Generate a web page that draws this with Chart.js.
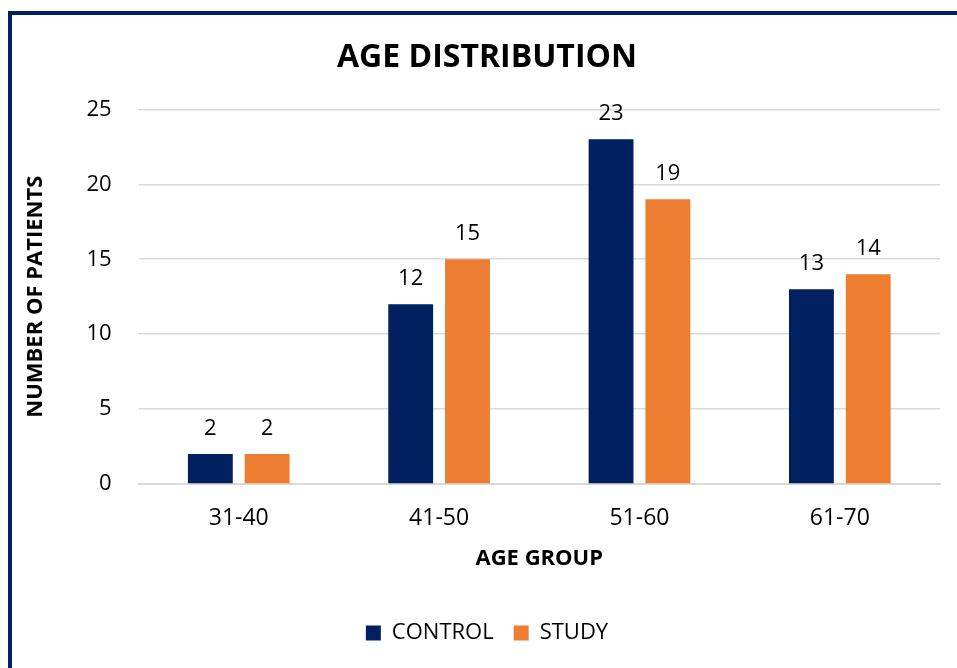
<!DOCTYPE html>
<html>
<head>
<meta charset="utf-8">
<script src="https://cdn.jsdelivr.net/npm/chart.js@4"></script>
<style>
  html, body { margin: 0; padding: 0; background: #fff; overflow: hidden; }
  #wrap { position: relative; width: 957px; height: 668px; }
  #frame { position: absolute; left: 8px; top: 11px; width: 1000px; height: 700px;
           border-left: 4px solid #002060; border-top: 4px solid #002060; box-sizing: border-box; }
  canvas { position: absolute; left: 0; top: 0; }
</style>
</head>
<body>
<div id="wrap">
  <div id="frame"></div>
  <canvas id="c" width="957" height="668"></canvas>
</div>
<script>
const categories = ['31-40', '41-50', '51-60', '61-70'];
const controlValues = [2, 12, 23, 13];
const studyValues = [2, 15, 19, 14];
const yTicks = [0, 5, 10, 15, 20, 25];

const FONT = '"Open Sans", "Liberation Sans", sans-serif';

// Write each bar's value above it
const valueLabels = {
  id: 'valueLabels',
  afterDatasetsDraw(chart) {
    const ctx = chart.ctx;
    ctx.save();
    ctx.font = '22px ' + FONT;
    ctx.fillStyle = '#000';
    ctx.textAlign = 'center';
    ctx.textBaseline = 'alphabetic';
    chart.data.datasets.forEach((ds, i) => {
      chart.getDatasetMeta(i).data.forEach((bar, j) => {
        ctx.fillText(String(ds.data[j]), bar.x, bar.y - 19);
      });
    });
    ctx.restore();
  }
};

new Chart(document.getElementById('c'), {
  type: 'bar',
  data: {
    labels: categories,
    datasets: [
      { label: 'CONTROL', data: controlValues, backgroundColor: '#002060' },
      { label: 'STUDY', data: studyValues, backgroundColor: '#ED7D31' }
    ]
  },
  options: {
    responsive: false,
    animation: false,
    layout: { padding: { left: 34, right: 17, top: 39, bottom: 14 } },
    datasets: { bar: { categoryPercentage: 0.567, barPercentage: 0.79 } },
    plugins: {
      title: {
        display: true, text: 'AGE DISTRIBUTION', color: '#000',
        font: { family: FONT, size: 32, weight: 'bold' },
        padding: { top: 0, bottom: 32 }
      },
      legend: {
        position: 'bottom',
        labels: {
          color: '#000', font: { family: FONT, size: 22 },
          boxWidth: 15, boxHeight: 15, padding: 20
        }
      },
      tooltip: { enabled: false }
    },
    scales: {
      x: {
        grid: { display: false },
        border: { display: true, color: '#d9d9d9', width: 2 },
        ticks: { color: '#000', font: { family: FONT, size: 23 }, padding: 13 },
        title: { display: true, text: 'AGE GROUP', color: '#000',
                 font: { family: FONT, size: 22, weight: 'bold' }, padding: { top: 0, bottom: 30 } }
      },
      y: {
        min: 0, max: 25,
        afterBuildTicks(axis) { axis.ticks = yTicks.map(v => ({ value: v })); },
        grid: { color: '#d9d9d9', lineWidth: 1.5, drawTicks: false },
        border: { display: false },
        ticks: { color: '#000', font: { family: FONT, size: 22 }, padding: 27 },
        title: { display: true, text: 'NUMBER OF PATIENTS', color: '#000',
                 font: { family: FONT, size: 22, weight: 'bold' }, padding: { top: -11, bottom: 10 } }
      }
    }
  },
  plugins: [valueLabels]
});
</script>
</body>
</html>
